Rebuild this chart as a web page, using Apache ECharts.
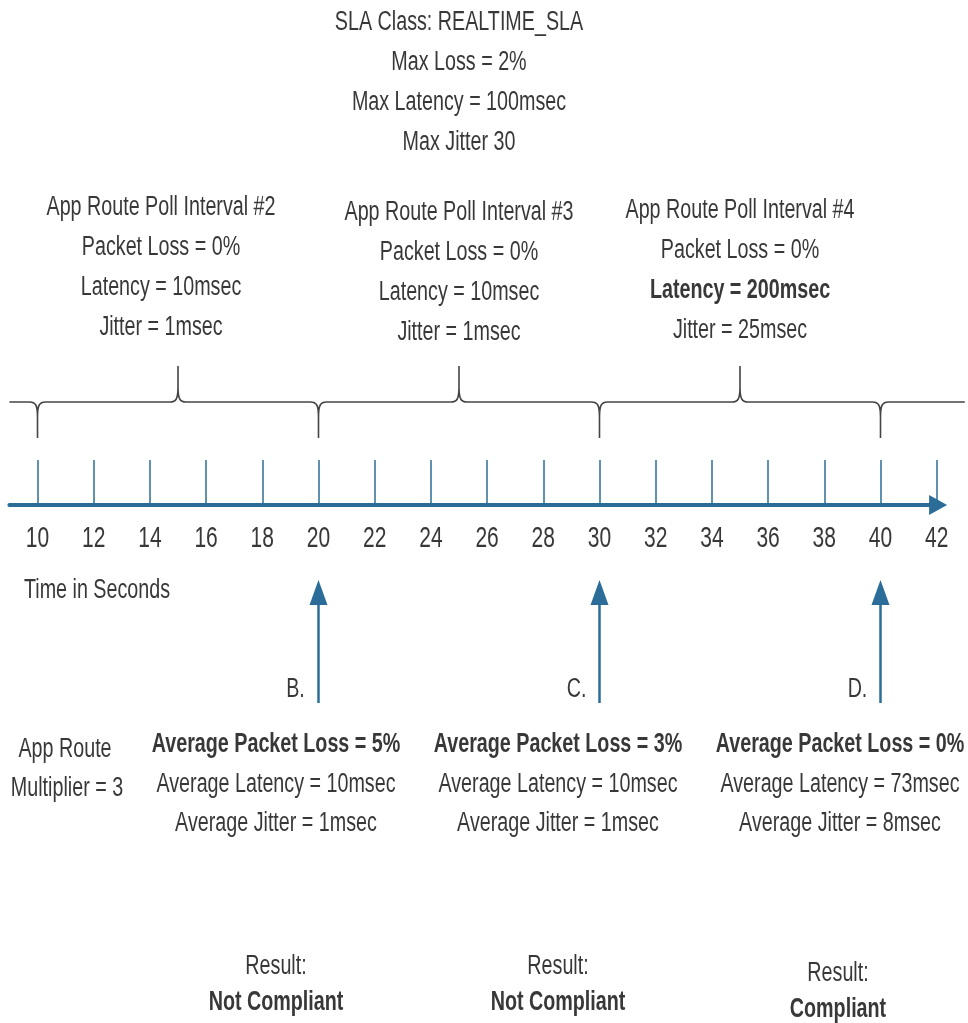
<!DOCTYPE html>
<html>
<head>
<meta charset="utf-8">
<title>App Route SLA timeline</title>
<script src="https://cdn.jsdelivr.net/npm/echarts@6/dist/echarts.min.js"></script>
<style>
  html, body { margin: 0; padding: 0; background: #fff; }
  #chart { width: 968px; height: 1023px; }
</style>
</head>
<body>
<div id="chart"></div>
<script>
/** time axis (seconds) */
const tickValues = [10, 12, 14, 16, 18, 20, 22, 24, 26, 28, 30, 32, 34, 36, 38, 40, 42];
const axisRange = [9, 42.05];
/** brace: interval boundaries (down) and poll midpoints (up) */
const intervalBounds = [10, 20, 30, 40];
const pollMidpoints = [15, 25, 35];
const braceExtent = [9, 43];
/** measurement points */
const checkpoints = [20, 30, 40];
const checkpointNames = ["B.", "C.", "D."];

/** SLA class */
const slaLines = ["SLA Class: REALTIME_SLA", "Max Loss = 2%", "Max Latency = 100msec", "Max Jitter 30"];
/** per poll interval */
const pollNames = ["#2", "#3", "#4"];
const pollLoss = ["0%", "0%", "0%"];
const pollLatency = ["10msec", "10msec", "200msec"];
const pollLatencyBad = [false, false, true];
const pollJitter = ["1msec", "1msec", "25msec"];
/** averages over multiplier */
const multiplier = 3;
const avgLoss = ["5%", "3%", "0%"];
const avgLatency = ["10msec", "10msec", "73msec"];
const avgJitter = ["1msec", "1msec", "8msec"];
const results = ["Not Compliant", "Not Compliant", "Compliant"];

// condensed look: Liberation Sans squeezed horizontally
const FONT = '"Liberation Sans", Arial, sans-serif';
const SQUEEZE = 0.73;
const TEXT = "#383838";
const BLUE = "#2b6d98";

function txt(text, x, y, opt) {
  opt = opt || {};
  return {
    type: "text",
    x: x,
    y: y,
    scaleX: opt.scaleX || SQUEEZE,
    silent: true,
    style: {
      text: text,
      fill: TEXT,
      fontSize: opt.size || 27,
      fontFamily: FONT,
      fontWeight: opt.bold ? "bold" : "normal",
      align: opt.align || "center",
      verticalAlign: "middle",
    },
  };
}

const graphics = [];
// SLA header
slaLines.forEach((s, i) => graphics.push(txt(s, 459, 23 + i * 40)));
// poll interval blocks
const pollX = [161, 459, 740];
const pollY = [208, 213, 211];
pollNames.forEach((n, i) => {
  const y = pollY[i];
  graphics.push(txt("App Route Poll Interval " + n, pollX[i], y));
  graphics.push(txt("Packet Loss = " + pollLoss[i], pollX[i], y + 40));
  graphics.push(txt("Latency = " + pollLatency[i], pollX[i], y + 80, { bold: pollLatencyBad[i] }));
  graphics.push(txt("Jitter = " + pollJitter[i], pollX[i], y + 120));
});
// axis title
graphics.push(txt("Time in Seconds", 24, 591, { align: "left" }));
// multiplier
graphics.push(txt("App Route", 65, 750));
graphics.push(txt("Multiplier = " + multiplier, 67, 789));
// averages and results
const avgX = [276, 558, 840];
const resX = [276, 558, 838];
const resY = [967, 967, 974];
avgLoss.forEach((v, i) => {
  graphics.push(txt("Average Packet Loss = " + v, avgX[i], 745, { bold: true }));
  graphics.push(txt("Average Latency = " + avgLatency[i], avgX[i], 785));
  graphics.push(txt("Average Jitter = " + avgJitter[i], avgX[i], 824));
  graphics.push(txt("Result:", resX[i], resY[i]));
  graphics.push(txt(results[i], resX[i], resY[i] + 36, { bold: true }));
});

const chart = echarts.init(document.getElementById("chart"));
chart.setOption({
  animation: false,
  backgroundColor: "#fff",
  grid: { left: 9.4, right: 29.9, top: 0, bottom: 518 },
  xAxis: {
    type: "value",
    min: axisRange[0],
    max: axisRange[1],
    splitLine: { show: false },
    axisLine: {
      show: true,
      onZero: false,
      symbol: ["none", "triangle"],
      symbolSize: [20, 18],
      lineStyle: { color: BLUE, width: 4 },
    },
    axisTick: {
      show: true,
      inside: true,
      length: 45,
      customValues: tickValues,
      lineStyle: { color: BLUE, width: 1.5 },
    },
    axisLabel: { show: false },
  },
  yAxis: { type: "value", min: 0, max: 1, show: false },
  graphic: graphics,
  series: [
    {
      // tick labels, placed through the x scale
      type: "custom",
      silent: true,
      clip: false,
      data: tickValues.map((v) => [v, 0]),
      renderItem: function (params, api) {
        const pt = api.coord([api.value(0), 0]);
        return {
          type: "text",
          x: pt[0],
          y: pt[1] + 34,
          scaleX: 0.7,
          style: {
            text: String(api.value(0)),
            fill: TEXT,
            fontSize: 30,
            fontFamily: FONT,
            align: "center",
            verticalAlign: "middle",
          },
        };
      },
    },
    {
      // curly braces marking poll intervals
      type: "custom",
      silent: true,
      clip: false,
      data: [[braceExtent[0], 0]],
      renderItem: function (params, api) {
        const yb = api.coord([tickValues[0], 0])[1] - 103;
        const cusps = intervalBounds
          .map((v) => ({ v: v, d: 1 }))
          .concat(pollMidpoints.map((v) => ({ v: v, d: -1 })))
          .sort((a, b) => a.v - b.v);
        const x0 = api.coord([braceExtent[0], 0])[0];
        const x1 = api.coord([braceExtent[1], 0])[0];
        const w = 8, k = 15, depth = 36;
        let p = "M" + x0 + " " + yb;
        cusps.forEach((c) => {
          const cx = api.coord([c.v, 0])[0];
          const d = c.d;
          p += " L" + (cx - w) + " " + yb;
          p += " C" + (cx - 2) + " " + yb + " " + cx + " " + (yb + d * 3) + " " + cx + " " + (yb + d * k);
          p += " L" + cx + " " + (yb + d * depth);
          p += " M" + cx + " " + (yb + d * k);
          p += " C" + cx + " " + (yb + d * 3) + " " + (cx + 2) + " " + yb + " " + (cx + w) + " " + yb;
        });
        p += " L" + x1 + " " + yb;
        return {
          type: "path",
          shape: { pathData: p },
          style: { fill: "none", stroke: "#454545", lineWidth: 1.6 },
        };
      },
    },
    {
      // measurement arrows B, C, D
      type: "custom",
      silent: true,
      clip: false,
      data: checkpoints.map((v, i) => [v, 0, i]),
      renderItem: function (params, api) {
        const pt = api.coord([api.value(0), 0]);
        const x = pt[0], y0 = pt[1];
        return {
          type: "group",
          children: [
            {
              type: "line",
              shape: { x1: x, y1: y0 + 198, x2: x, y2: y0 + 96 },
              style: { stroke: BLUE, lineWidth: 2.5 },
            },
            {
              type: "polygon",
              shape: { points: [[x, y0 + 75], [x - 9, y0 + 100], [x + 9, y0 + 100]] },
              style: { fill: BLUE },
            },
            {
              type: "text",
              x: x - 23,
              y: y0 + 185,
              scaleX: SQUEEZE,
              style: {
                text: checkpointNames[api.value(2)],
                fill: TEXT,
                fontSize: 27,
                fontFamily: FONT,
                align: "center",
                verticalAlign: "middle",
              },
            },
          ],
        };
      },
    },
  ],
});
</script>
</body>
</html>
